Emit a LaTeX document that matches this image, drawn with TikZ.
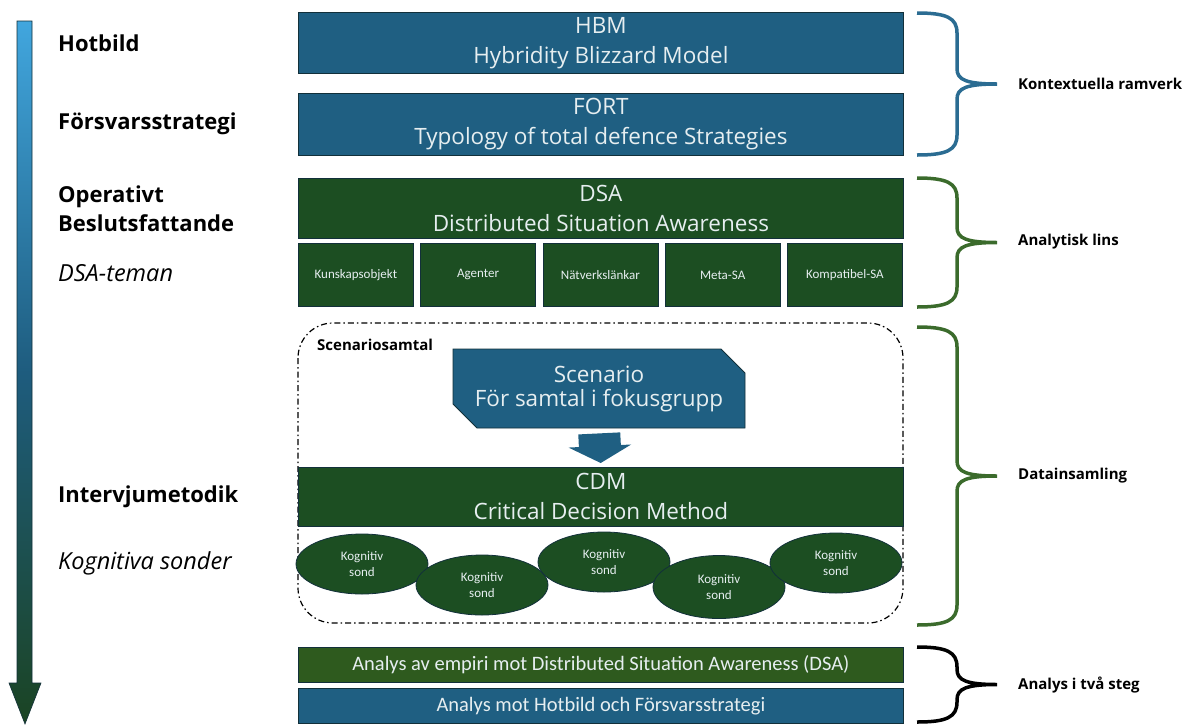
\documentclass[tikz,border=0pt]{standalone}
\usepackage{fontspec}
\setmainfont{Open Sans}
\newfontfamily\narrowfont{Carlito}
\usetikzlibrary{shapes.geometric,shapes.misc,arrows.meta}

\definecolor{hbmblue}{HTML}{1F5F82}
\definecolor{dsagreen}{HTML}{1C4E22}
\definecolor{olivegreen}{HTML}{2E5A1E}
\definecolor{boxline}{HTML}{12303A}
\definecolor{boxtext}{HTML}{E6EEF0}
\definecolor{bluebrace}{HTML}{2B6C92}
\definecolor{greenbrace}{HTML}{3B6B2C}
\definecolor{arrowtop}{HTML}{41A6DE}
\definecolor{arrowmid}{HTML}{1E5C7E}
\definecolor{arrowbot}{HTML}{1B4423}

% right-hand curly brace between two heights
\newcommand{\sidebrace}[3]{%
  \pgfmathsetmacro\bm{(#2+#3)/2}
  \draw[brace line,#1] (917,#2) .. controls (947,#2) and (957,#2+5) .. (957,#2+20)
    -- (957,\bm-15) .. controls (957,\bm-4) and (967,\bm) .. (997,\bm)
    .. controls (967,\bm) and (957,\bm+4) .. (957,\bm+15)
    -- (957,#3-20) .. controls (957,#3-5) and (947,#3) .. (917,#3);}

\begin{document}
\begin{tikzpicture}[x=1pt,y=-1pt,
    wide box/.style={draw=boxline,line width=0.8pt,anchor=north west,minimum width=605pt,inner sep=0pt,align=center,text=boxtext,font=\fontsize{22.5}{30}\selectfont},
    theme box/.style={draw=boxline,line width=0.8pt,fill=dsagreen,anchor=north west,minimum width=115pt,minimum height=63pt,inner sep=0pt,text=boxtext,font=\narrowfont\fontsize{13}{15}\selectfont},
    probe/.style={ellipse,draw=boxline,line width=0.8pt,fill=dsagreen,minimum width=132pt,minimum height=60pt,inner sep=0pt,align=center,text=boxtext,font=\narrowfont\fontsize{13}{16}\selectfont},
    side label/.style={anchor=west,inner sep=0pt,align=left,font=\bfseries\fontsize{22}{29}\selectfont},
    side note/.style={anchor=west,inner sep=0pt,font=\itshape\fontsize{23.5}{29}\selectfont},
    brace label/.style={anchor=west,inner sep=0pt,font=\bfseries\fontsize{15}{18}\selectfont},
    brace line/.style={line width=3.5pt}]
  \useasboundingbox (0,0) rectangle (1191,724);

  % time line on the left
  \draw[boxline,line width=0.6pt,top color=arrowtop,bottom color=arrowbot,middle color=arrowmid]
    (17,21) -- (32,21) -- (32,683) -- (41,683) -- (25,724) -- (9,683) -- (17,683) -- cycle;

  \node[side label] at (58,43) (threat) {Hotbild};
  \node[side label] at (58,124) (strategy) {Försvarsstrategi};
  \node[side label] at (58,209) (operative) {Operativt\\Beslutsfattande};
  \node[side note] at (58,273) (themes) {DSA-teman};
  \node[side label] at (58,497) (method) {Intervjumetodik};
  \node[side note] at (58,563) (probes) {Kognitiva sonder};

  % frameworks and lens
  \node[wide box,fill=hbmblue,minimum height=61pt] at (298,12) (hbm) {HBM\\Hybridity Blizzard Model};
  \node[wide box,fill=hbmblue,minimum height=62pt] at (298,93) (fort) {FORT\\Typology of total defence Strategies};
  \node[wide box,fill=dsagreen,minimum height=60pt] at (298,178) (dsa) {DSA\\Distributed Situation Awareness};
  \foreach \theme [count=\i] in {Kunskapsobjekt,Agenter,Nätverkslänkar,Meta-SA,Kompatibel-SA}
    \node[theme box] at ({298+(\i-1)*122.25},243) (theme\i) {\theme};

  % data collection
  \draw[line width=1.2pt,dash pattern=on 6pt off 3pt on 1.5pt off 3pt,rounded corners=35pt] (298,323) rectangle (903,623);
  \node[anchor=west,inner sep=0pt,font=\bfseries\fontsize{15}{17}\selectfont] at (317,345) (talk) {Scenariosamtal};
  \node[chamfered rectangle,chamfered rectangle corners={north east,south west},chamfered rectangle xsep=12pt,chamfered rectangle ysep=12pt,
        draw=boxline,line width=0.8pt,fill=hbmblue,minimum width=292pt,minimum height=79pt,inner sep=0pt,align=center,text=boxtext,
        font=\fontsize{22.5}{24}\selectfont] at (599,388.5) (scen) {Scenario\\För samtal i fokusgrupp};
  \node[wide box,fill=dsagreen,minimum height=59pt] at (298,467) (cdm) {CDM\\Critical Decision Method};
  \draw[hbmblue,line width=42pt,shorten <=5pt,shorten >=4pt,-{Triangle[width=62pt,length=17pt]}] (scen.south) -- (cdm.north);

  \node[probe] at (362,564) (probe1) {Kognitiv\\sond};
  \node[probe] at (482,585) (probe2) {Kognitiv\\sond};
  \node[probe] at (604,562) (probe3) {Kognitiv\\sond};
  \node[probe,minimum height=63pt] at (719,587) (probe4) {Kognitiv\\sond};
  \node[probe] at (836,563) (probe5) {Kognitiv\\sond};

  % analysis
  \node[wide box,fill=olivegreen,minimum height=35pt,font=\narrowfont\fontsize{20.5}{22}\selectfont] at (298,647) (empiri) {Analys av empiri mot Distributed Situation Awareness (DSA)};
  \node[wide box,fill=hbmblue,minimum height=35pt,font=\narrowfont\fontsize{20.5}{22}\selectfont] at (298,688) (threatcheck) {Analys mot Hotbild och Försvarsstrategi};

  % braces on the right
  \sidebrace{bluebrace}{13}{155}
  \sidebrace{greenbrace}{178}{307}
  \sidebrace{greenbrace}{327}{625}
  \sidebrace{black}{647}{722}
  \node[brace label] at (1018,84) (context) {Kontextuella ramverk};
  \node[brace label] at (1018,242) (lens) {Analytisk lins};
  \node[brace label] at (1018,476) (collect) {Datainsamling};
  \node[brace label] at (1018,685) (twostep) {Analys i två steg};
\end{tikzpicture}
\end{document}
